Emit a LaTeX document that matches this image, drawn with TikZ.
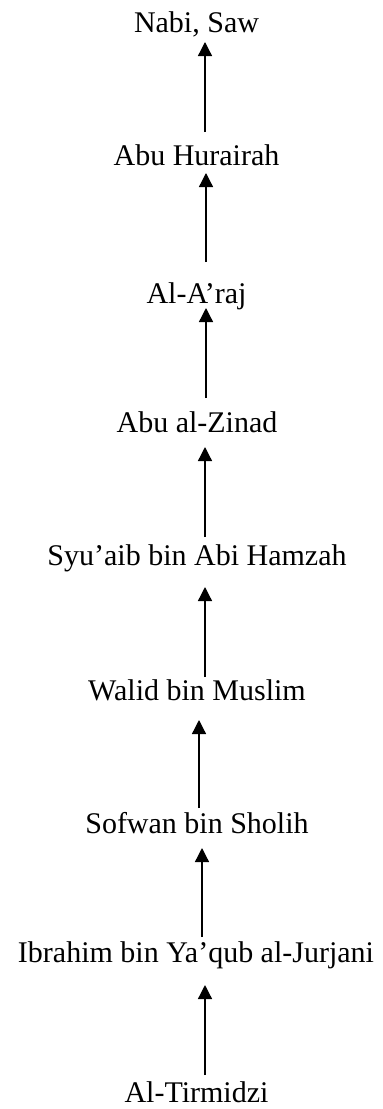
\documentclass[tikz,border=0pt]{standalone}
\usepackage{fontspec}
\setmainfont{Liberation Serif}
\usetikzlibrary{arrows.meta}
\tikzset{
  person/.style={inner sep=0pt, anchor=base, font=\fontsize{30}{35}\selectfont},
  arr/.style={line width=1.3pt, -{Triangle[width=14pt,length=14pt]}}
}
\begin{document}
\begin{tikzpicture}[x=1pt,y=-1pt]
\useasboundingbox (0,0) rectangle (383,1109);
\node[person] (n1) at (196.5,32) {Nabi, Saw};
\node[person] (n2) at (196.5,165) {Abu Hurairah};
\node[person] (n3) at (196.5,303) {Al-A’raj};
\node[person] (n4) at (197,432) {Abu al-Zinad};
\node[person] (n5) at (197,565) {Syu’aib bin Abi Hamzah};
\node[person] (n6) at (197,700) {Walid bin Muslim};
\node[person] (n7) at (197,833) {Sofwan bin Sholih};
\node[person] (n8) at (196,962) {Ibrahim bin Ya’qub al-Jurjani};
\node[person] (n9) at (196.5,1102) {Al-Tirmidzi};
% arrows: shift relative to base anchors (y positive = downward)
\draw[arr] ([shift={(8.5,-33)}]n2.base) -- ([shift={(8.5,10)}]n1.base);
\draw[arr] ([shift={(9.5,-41)}]n3.base) -- ([shift={(9.5,8)}]n2.base);
\draw[arr] ([shift={(9,-34)}]n4.base) -- ([shift={(9.5,5)}]n3.base);
\draw[arr] ([shift={(8,-28)}]n5.base) -- ([shift={(8,15)}]n4.base);
\draw[arr] ([shift={(8,-23)}]n6.base) -- ([shift={(8,22)}]n5.base);
\draw[arr] ([shift={(2,-25)}]n7.base) -- ([shift={(2,20)}]n6.base);
\draw[arr] ([shift={(6,-25)}]n8.base) -- ([shift={(5,15)}]n7.base);
\draw[arr] ([shift={(8.5,-27)}]n9.base) -- ([shift={(9,23)}]n8.base);
\end{tikzpicture}
\end{document}
